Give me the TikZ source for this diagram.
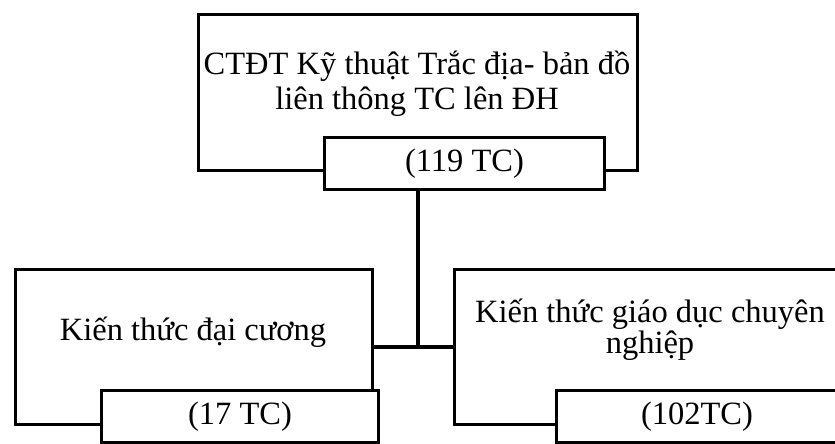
\documentclass[tikz,border=0pt]{standalone}
\usepackage{fontspec}
\setmainfont{Liberation Serif}
\begin{document}
\begin{tikzpicture}[x=1pt, y=-1pt,
  panel/.style 2 args={draw, line width=3.2pt, minimum width=#1, minimum height=#2, inner sep=0pt},
  boxtext/.style={align=center, inner sep=0pt, font=\fontsize{32.5}{#1}\selectfont},
  credit/.style={draw, fill=white, line width=3.2pt, minimum width=#1, minimum height=52pt, inner sep=0pt, font=\fontsize{32.5}{35}\selectfont},
  link/.style={line width=3.6pt}]
  \useasboundingbox (0,0) rectangle (835,444);
  \clip (0,0) rectangle (835,444);
  \node[panel={439pt}{156pt}] (ctdt) at (418,92.5) {};
  \node[panel={357pt}{155pt}] (dc) at (194,347) {};
  \node[panel={392pt}{155pt}] (gdcn) at (650.5,347) {};
  \node[boxtext=35pt] (ctdt-text) at (417,84) {CTĐT Kỹ thuật Trắc địa- bản đồ\\liên thông TC lên ĐH};
  \node[boxtext=35pt, anchor=base] (dc-text) at (193,340) {Kiến thức đại cương};
  \node[boxtext=31pt] (gdcn-text) at (650,330) {Kiến thức giáo dục chuyên\\nghiệp};
  \draw[link] (ctdt.south |- 0,191) -- (ctdt.south |- dc.east);
  \draw[link] (dc.east) -- (gdcn.west);
  \node[credit=280pt] (tc119) at (464.5,163.5) {(119 TC)};
  \node[credit=277pt] (tc17) at (240,416.5) {(17 TC)};
  \node[credit=281pt] (tc102) at (697,416.5) {(102TC)};
\end{tikzpicture}
\end{document}
